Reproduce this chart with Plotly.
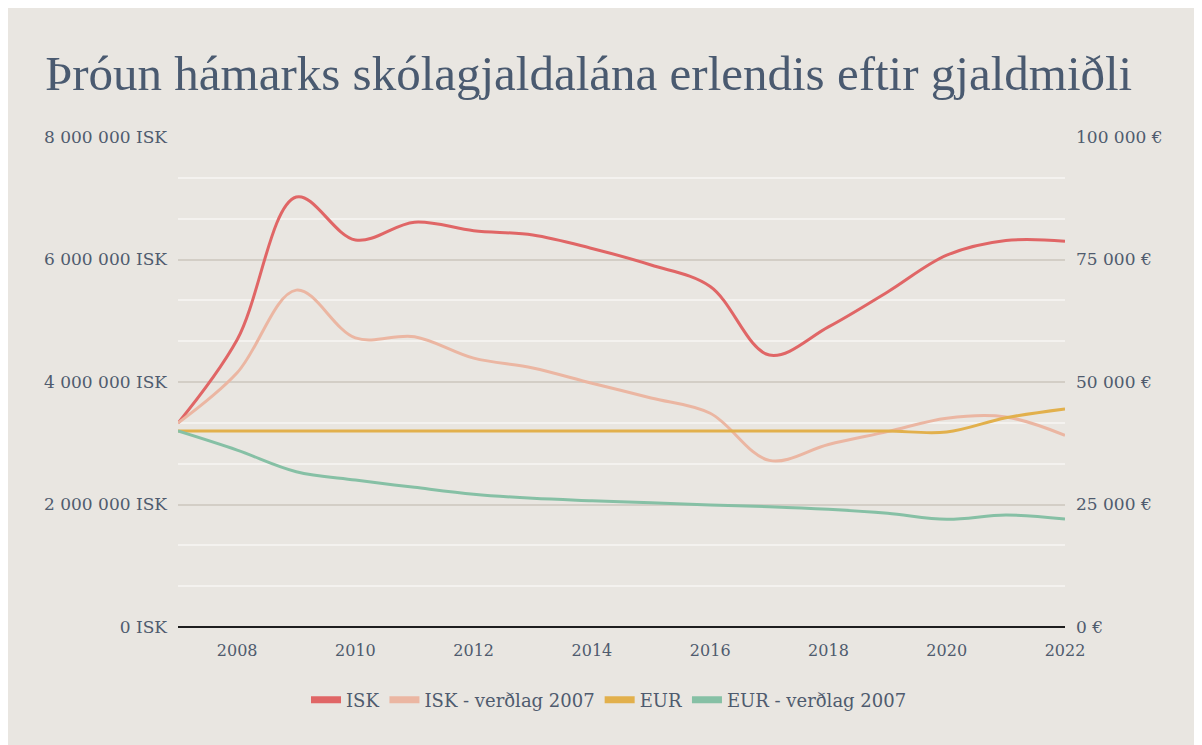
import plotly.graph_objects as go

years = list(range(2007, 2023))
isk = [3.33e6, 4.69e6, 7.02e6, 6.32e6, 6.61e6, 6.47e6, 6.40e6, 6.18e6, 5.91e6, 5.56e6,
       4.44e6, 4.90e6, 5.47e6, 6.07e6, 6.31e6, 6.30e6]
isk_2007 = [3.33e6, 4.15e6, 5.50e6, 4.72e6, 4.74e6, 4.39e6, 4.23e6, 3.98e6, 3.74e6, 3.49e6,
            2.72e6, 2.98e6, 3.19e6, 3.41e6, 3.43e6, 3.13e6]
eur = [40000, 40000, 40000, 40000, 40000, 40000, 40000, 40000, 40000, 40000,
       40000, 40000, 40000, 39800, 42700, 44500]
eur_2007 = [40000, 36100, 31700, 30000, 28500, 27100, 26260, 25780, 25370, 24900,
            24560, 24020, 23200, 21980, 22860, 22040]

names = ["ISK", "ISK - verðlag 2007", "EUR", "EUR - verðlag 2007"]
colors = ["#e06666", "#ebb6a2", "#e2b04c", "#86c0a5"]

isk_ticks = [0, 2e6, 4e6, 6e6, 8e6]
isk_labels = ["0 ISK", "2 000 000 ISK", "4 000 000 ISK", "6 000 000 ISK", "8 000 000 ISK"]
eur_ticks = [0, 25000, 50000, 75000, 100000]
eur_labels = ["0 €", "25 000 €", "50 000 €", "75 000 €", "100 000 €"]
x_ticks = [2008, 2010, 2012, 2014, 2016, 2018, 2020, 2022]

font = "DejaVu Serif"
txt = "#4f5b6e"

fig = go.Figure()
series = [isk, isk_2007, eur, eur_2007]
axes = ["y", "y", "y2", "y2"]
for s, n, c, a in zip(series, names, colors, axes):
    fig.add_trace(go.Scatter(x=years, y=s, name=n, yaxis=a, mode="lines",
                             line=dict(color=c, width=3, shape="spline", smoothing=1),
                             showlegend=False, hoverinfo="skip"))
for n, c in zip(names, colors):
    fig.add_trace(go.Scatter(x=[None], y=[None], name=n, mode="lines",
                             line=dict(color=c, width=7), showlegend=True))

fig.update_layout(
    width=1202, height=745,
    paper_bgcolor="#e9e6e1", plot_bgcolor="#e9e6e1",
    margin=dict(l=170, r=145, t=129, b=126),
    title=dict(text="Þróun hámarks skólagjaldalána erlendis eftir gjaldmiðli",
               x=37/1202, xref="container", xanchor="left",
               y=1-65/745, yref="container", yanchor="middle",
               font=dict(family="Liberation Serif", size=49, color="#4a5a70")),
    xaxis=dict(range=[2007, 2022], tickvals=x_ticks, showgrid=False, zeroline=False,
               showline=False, ticks="", ticklabelstandoff=12,
               tickfont=dict(family=font, size=16, color=txt)),
    yaxis=dict(range=[0, 8e6], tickvals=isk_ticks, ticktext=isk_labels,
               showgrid=True, gridcolor="#d3cec6", gridwidth=1.5,
               minor=dict(dtick=2e6/3, showgrid=True, gridcolor="#f4f2ef", gridwidth=1.5),
               zeroline=True, zerolinecolor="#1e1e1e", zerolinewidth=2,
               ticks="", ticklabelstandoff=10,
               tickfont=dict(family=font, size=17, color=txt)),
    yaxis2=dict(range=[0, 100000], overlaying="y", side="right", tickvals=eur_ticks,
                ticktext=eur_labels, showgrid=False, zeroline=False, ticks="",
                ticklabelstandoff=10,
                tickfont=dict(family=font, size=17, color=txt)),
    legend=dict(orientation="h", x=0.5, xanchor="center", xref="container",
                y=1-692/745, yref="container", yanchor="middle",
                font=dict(family=font, size=18, color=txt), itemwidth=30,
                bgcolor="rgba(0,0,0,0)"),
)

fig.write_html("out.html")
